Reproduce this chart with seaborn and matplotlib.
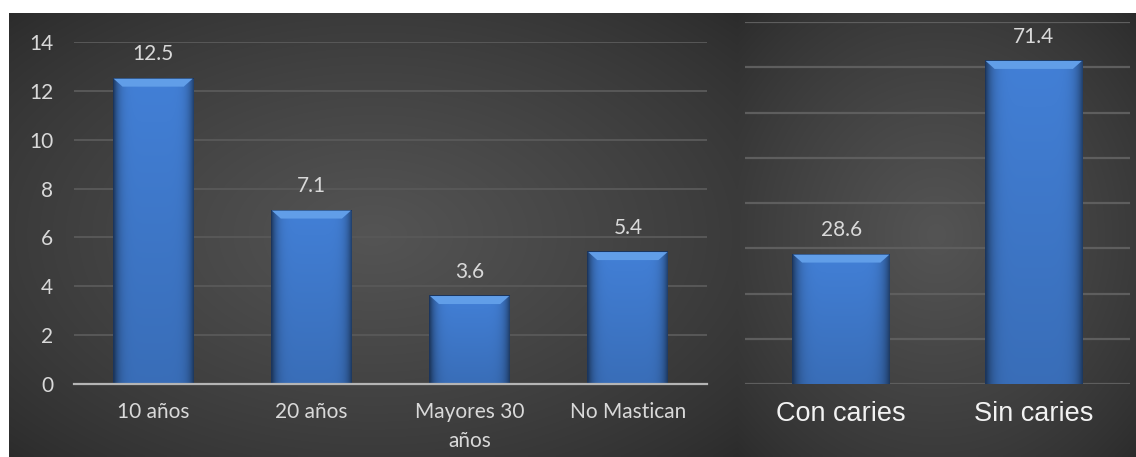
import numpy as np
import pandas as pd
import matplotlib
matplotlib.use("Agg")
import matplotlib.pyplot as plt
from matplotlib.patches import Polygon
import seaborn as sns

# Edad de inicio de la masticación / ausencia de caries
age_groups = ["10 años", "20 años", "Mayores 30\naños", "No Mastican"]
age_values = [12.5, 7.1, 3.6, 5.4]
age_ticks = [0, 2, 4, 6, 8, 10, 12, 14]

caries_groups = ["Con caries", "Sin caries"]
caries_values = [28.6, 71.4]
caries_ticks = [0, 10, 20, 30, 40, 50, 60, 70, 80]

sns.set_theme(style="dark")
plt.rcParams["font.family"] = ["Lato", "DejaVu Sans"]

W, H = 1136, 457
fig = plt.figure(figsize=(W / 100, H / 100), dpi=100, facecolor="white")


def fx(px):
    return px / W


def fy(px):
    return 1 - px / H


def panel_background(x0, x1, y0, y1):
    bg = fig.add_axes([fx(x0), fy(y1), fx(x1 - x0), (y1 - y0) / H])
    nx, ny = 300, 150
    xx, yy = np.meshgrid(np.linspace(-1, 1, nx), np.linspace(-1, 1, ny))
    r = np.clip(np.sqrt(xx ** 2 + yy ** 2) / np.sqrt(2), 0, 1)
    inner, outer = np.array([0.33, 0.33, 0.33]), np.array([0.17, 0.17, 0.17])
    t = (1 - r[..., None]) ** 0.8
    img = inner[None, None, :] * t + outer[None, None, :] * (1 - t)
    bg.imshow(img, extent=[0, 1, 0, 1], aspect="auto", interpolation="bilinear")
    bg.set_axis_off()
    return bg


panel_background(9, 737, 13, H)
panel_background(737, W, 13, H)


def shade_bars(ax, ylim):
    ax.set_ylim(*ylim)
    fig.canvas.draw()
    px_per_y = ax.bbox.height / (ylim[1] - ylim[0])
    px_per_x = ax.bbox.width / (ax.get_xlim()[1] - ax.get_xlim()[0])
    for patch in list(ax.patches):
        x0, y0 = patch.get_x(), patch.get_y()
        w, h = patch.get_width(), patch.get_height()
        # horizontal shading: darker towards the sides, lighter near the top
        u = np.linspace(-1, 1, 200)
        hprof = 1 - 0.5 * np.abs(u) ** 7
        v = np.linspace(0, 1, 100)[:, None]
        vprof = 0.86 + 0.14 * v
        base = np.array([0.26, 0.50, 0.84])
        img = base[None, None, :] * (hprof[None, :, None] * vprof[..., None])
        img = np.clip(img, 0, 1)
        im = ax.imshow(img, extent=[x0, x0 + w, y0, y0 + h], origin="lower",
                       aspect="auto", interpolation="bilinear", zorder=3)
        im.set_clip_path(patch)
        patch.set_edgecolor("#1a355e")
        patch.set_linewidth(1.4)
        patch.set_zorder(3)
        # bevelled top face
        dxp = 9 / px_per_x
        dyp = 8 / px_per_y
        top = y0 + h
        bevel = Polygon([(x0, top), (x0 + w, top), (x0 + w - dxp, top - dyp), (x0 + dxp, top - dyp)],
                        closed=True, facecolor="#619ee8", edgecolor="none", zorder=4)
        ax.add_patch(bevel)


# ---- left chart -------------------------------------------------------
ax1 = fig.add_axes([fx(74), fy(384), fx(707 - 74), (384 - 42) / H])
ax1.set_facecolor("none")
df1 = pd.DataFrame({"grupo": age_groups, "valor": age_values})
sns.barplot(data=df1, x="grupo", y="valor", ax=ax1, color="#4280d6", width=0.5,
            saturation=1, zorder=3)
ax1.set_xlim(-0.5, len(age_groups) - 0.5)
shade_bars(ax1, (0, 14))
ax1.set_yticks(age_ticks)
ax1.yaxis.grid(True, color="#585858", linewidth=1.4)
ax1.xaxis.grid(False)
for s in ["top", "right", "left"]:
    ax1.spines[s].set_visible(False)
ax1.spines["bottom"].set_color("#b5b5b5")
ax1.spines["bottom"].set_linewidth(1.6)
ax1.spines["bottom"].set_zorder(5)
ax1.set_xlabel("")
ax1.set_ylabel("")
ax1.tick_params(axis="y", length=0, pad=15, labelsize=15, labelcolor="#d9d9d9")
ax1.tick_params(axis="x", length=0, pad=13, labelsize=15, labelcolor="#d9d9d9")
for lbl in ax1.get_xticklabels():
    lbl.set_linespacing(1.55)
for i, v in enumerate(age_values):
    ax1.annotate(f"{v:.1f}", (i, v), xytext=(0, 17.5), textcoords="offset points",
                 ha="center", va="center", fontsize=15, color="#d9d9d9")

# ---- right chart ------------------------------------------------------
ax2 = fig.add_axes([fx(745), fy(384), fx(1130 - 745), (384 - 22) / H])
ax2.set_facecolor("none")
df2 = pd.DataFrame({"grupo": caries_groups, "valor": caries_values})
sns.barplot(data=df2, x="grupo", y="valor", ax=ax2, color="#4280d6", width=0.5,
            saturation=1, zorder=3)
ax2.set_xlim(-0.5, len(caries_groups) - 0.5)
shade_bars(ax2, (0, 80))
ax2.set_yticks(caries_ticks)
ax2.set_yticklabels([])
ax2.yaxis.grid(True, color="#5e5e5e", linewidth=1.6)
ax2.xaxis.grid(False)
for s in ["top", "right", "left", "bottom"]:
    ax2.spines[s].set_visible(False)
ax2.set_xlabel("")
ax2.set_ylabel("")
ax2.tick_params(axis="y", length=0)
ax2.tick_params(axis="x", length=0, pad=12, labelsize=19.5, labelcolor="#f2f2f2")
for lbl in ax2.get_xticklabels():
    lbl.set_fontfamily(["Liberation Sans", "DejaVu Sans"])
for i, v in enumerate(caries_values):
    ax2.annotate(f"{v:.1f}", (i, v), xytext=(0, 17.5), textcoords="offset points",
                 ha="center", va="center", fontsize=15, color="#d9d9d9")

fig.savefig("out.png", dpi=100, facecolor="white")
